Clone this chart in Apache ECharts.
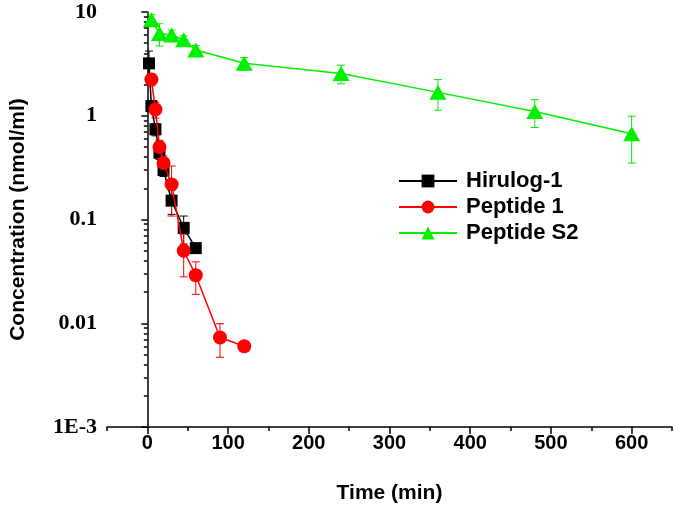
<!DOCTYPE html>
<html lang="en">
<head>
	<meta charset="UTF-8">
	<title></title>
	<style>html,body{margin:0;padding:0;background:#fff;}</style>
</head>
<body>
	<div id="chart" style="width:675px;height:509px;"></div>
<script src="https://cdn.jsdelivr.net/npm/echarts@6/dist/echarts.min.js"></script>
<script>
// time (min), concentration (nmol/ml), SD
var hirTime = [2, 5, 10, 15, 20, 30, 45, 60];
var hirConc = [3.2, 1.24, 0.74, 0.44, 0.30, 0.152, 0.083, 0.053];
var hirSd   = [1.0, 0.15, 0.1, 0.06, 0.04, 0.04, 0.025, 0.005];

var pepTime = [5, 10, 15, 20, 30, 45, 60, 90, 120];
var pepConc = [2.24, 1.15, 0.50, 0.35, 0.218, 0.050, 0.029, 0.0073, 0.0060];
var pepSd   = [0.3, 0.2, 0.08, 0.06, 0.11, 0.022, 0.01, 0.0026, 0.0004];

var s2Time = [5, 15, 30, 45, 60, 120, 240, 360, 480, 600];
var s2Conc = [8.4, 6.2, 6.0, 5.4, 4.3, 3.2, 2.55, 1.68, 1.1, 0.67];
var s2Sd   = [1.1, 1.5, 0.7, 0.5, 0.45, 0.45, 0.52, 0.55, 0.33, 0.32];

var names = ['Hirulog-1', 'Peptide 1', 'Peptide S2'];
var colors = ['#000000', '#ff0000', '#00f000'];

var xMajor = [0, 100, 200, 300, 400, 500, 600];
var xMinor = [-50, 50, 150, 250, 350, 450, 550, 650];
var yMajor = [0.001, 0.01, 0.1, 1, 10];
var yLabels = {'-3': '1E-3', '-2': '0.01', '-1': '0.1', '0': '1', '1': '10'};

function pairs(t, v){
  var out = [];
  for (var i = 0; i < t.length; i++) out.push([t[i], v[i]]);
  return out;
}
function errs(t, v, sd){
  var out = [];
  for (var i = 0; i < t.length; i++) out.push([t[i], v[i] - sd[i], v[i] + sd[i]]);
  return out;
}
var yMinor = [];
for (var k = -3; k < 1; k++){
  for (var m = 2; m <= 9; m++) yMinor.push(m * Math.pow(10, k));
}

function errRender(color){
  return function(params, api){
    var lo = api.coord([api.value(0), api.value(1)]);
    var hi = api.coord([api.value(0), api.value(2)]);
    var w = 4;
    var st = {stroke: color, lineWidth: 1};
    return {
      type: 'group',
      children: [
        {type: 'line', shape: {x1: lo[0], y1: lo[1], x2: hi[0], y2: hi[1]}, style: st},
        {type: 'line', shape: {x1: lo[0] - w, y1: lo[1], x2: lo[0] + w, y2: lo[1]}, style: st},
        {type: 'line', shape: {x1: hi[0] - w, y1: hi[1], x2: hi[0] + w, y2: hi[1]}, style: st}
      ]
    };
  };
}

var symbols = ['rect', 'circle', 'triangle'];
var sizes = [12, 14, [17, 15]];
var lineData = [pairs(hirTime, hirConc), pairs(pepTime, pepConc), pairs(s2Time, s2Conc)];
var errData = [errs(hirTime, hirConc, hirSd), errs(pepTime, pepConc, pepSd), errs(s2Time, s2Conc, s2Sd)];

var series = [];
for (var i = 0; i < 3; i++){
  series.push({
    name: names[i] + ' err',
    type: 'custom',
    renderItem: errRender(colors[i]),
    data: errData[i],
    encode: {x: 0, y: [1, 2]},
    z: 1,
    silent: true
  });
}
for (var i = 0; i < 3; i++){
  series.push({
    name: names[i],
    type: 'line',
    data: lineData[i],
    symbol: symbols[i],
    symbolSize: sizes[i],
    showAllSymbol: true,
    color: colors[i],
    lineStyle: {color: colors[i], width: 1.5},
    itemStyle: {color: colors[i]},
    z: 3 + i
  });
}

var chart = echarts.init(document.getElementById('chart'));
var sans = 'Liberation Sans, Arial, sans-serif';
var serif = 'Liberation Serif, Times New Roman, serif';

chart.setOption({
  animation: false,
  grid: {left: 107, right: 3, top: 12, bottom: 82, outerBoundsMode: 'none', containLabel: false},
  legend: {
    orient: 'vertical',
    left: 393,
    top: 165,
    itemWidth: 58,
    itemHeight: 16,
    itemGap: 4,
    data: names,
    textStyle: {fontFamily: sans, fontWeight: 'bold', fontSize: 22, color: '#000', padding: [0, 0, 0, 4]}
  },
  xAxis: [{
    type: 'value',
    min: -50,
    max: 650,
    interval: 50,
    position: 'bottom',
    name: 'Time (min)',
    nameLocation: 'middle',
    nameGap: 56,
    nameTextStyle: {fontFamily: sans, fontWeight: 'bold', fontSize: 21, color: '#000'},
    axisLine: {onZero: false, lineStyle: {color: '#000', width: 1.5}},
    axisTick: {customValues: xMajor, length: 7, lineStyle: {color: '#000', width: 1.5}},
    axisLabel: {customValues: xMajor, margin: 6, fontFamily: sans, fontWeight: 'bold', fontSize: 20, color: '#000'},
    splitLine: {show: false}
  }, {
    type: 'value',
    min: -50,
    max: 650,
    interval: 50,
    position: 'bottom',
    axisLine: {show: false, onZero: false},
    axisTick: {customValues: xMinor, length: 4, lineStyle: {color: '#000', width: 1.5}},
    axisLabel: {show: false},
    splitLine: {show: false}
  }],
  yAxis: [{
    type: 'log',
    logBase: 10,
    min: 0.001,
    max: 10,
    position: 'left',
    name: 'Concentration (nmol/ml)',
    nameLocation: 'middle',
    nameGap: 78,
    nameRotate: 90,
    nameTextStyle: {fontFamily: sans, fontWeight: 'bold', fontSize: 21, color: '#000'},
    axisLine: {show: true, lineStyle: {color: '#000', width: 1.5}},
    axisTick: {show: true, customValues: yMajor, length: 6, lineStyle: {color: '#000', width: 1.5}},
    axisLabel: {
      customValues: yMajor,
      margin: 10,
      fontFamily: serif,
      fontWeight: 'bold',
      fontSize: 22,
      color: '#000',
      formatter: function(v){ return yLabels[Math.round(Math.log10(v))]; }
    },
    splitLine: {show: false}
  }, {
    type: 'log',
    logBase: 10,
    min: 0.001,
    max: 10,
    position: 'left',
    axisLine: {show: false},
    axisTick: {show: true, customValues: yMinor, length: 3.5, lineStyle: {color: '#000', width: 1.5}},
    axisLabel: {show: false},
    splitLine: {show: false}
  }],
  series: series
});
</script>
</body>
</html>
